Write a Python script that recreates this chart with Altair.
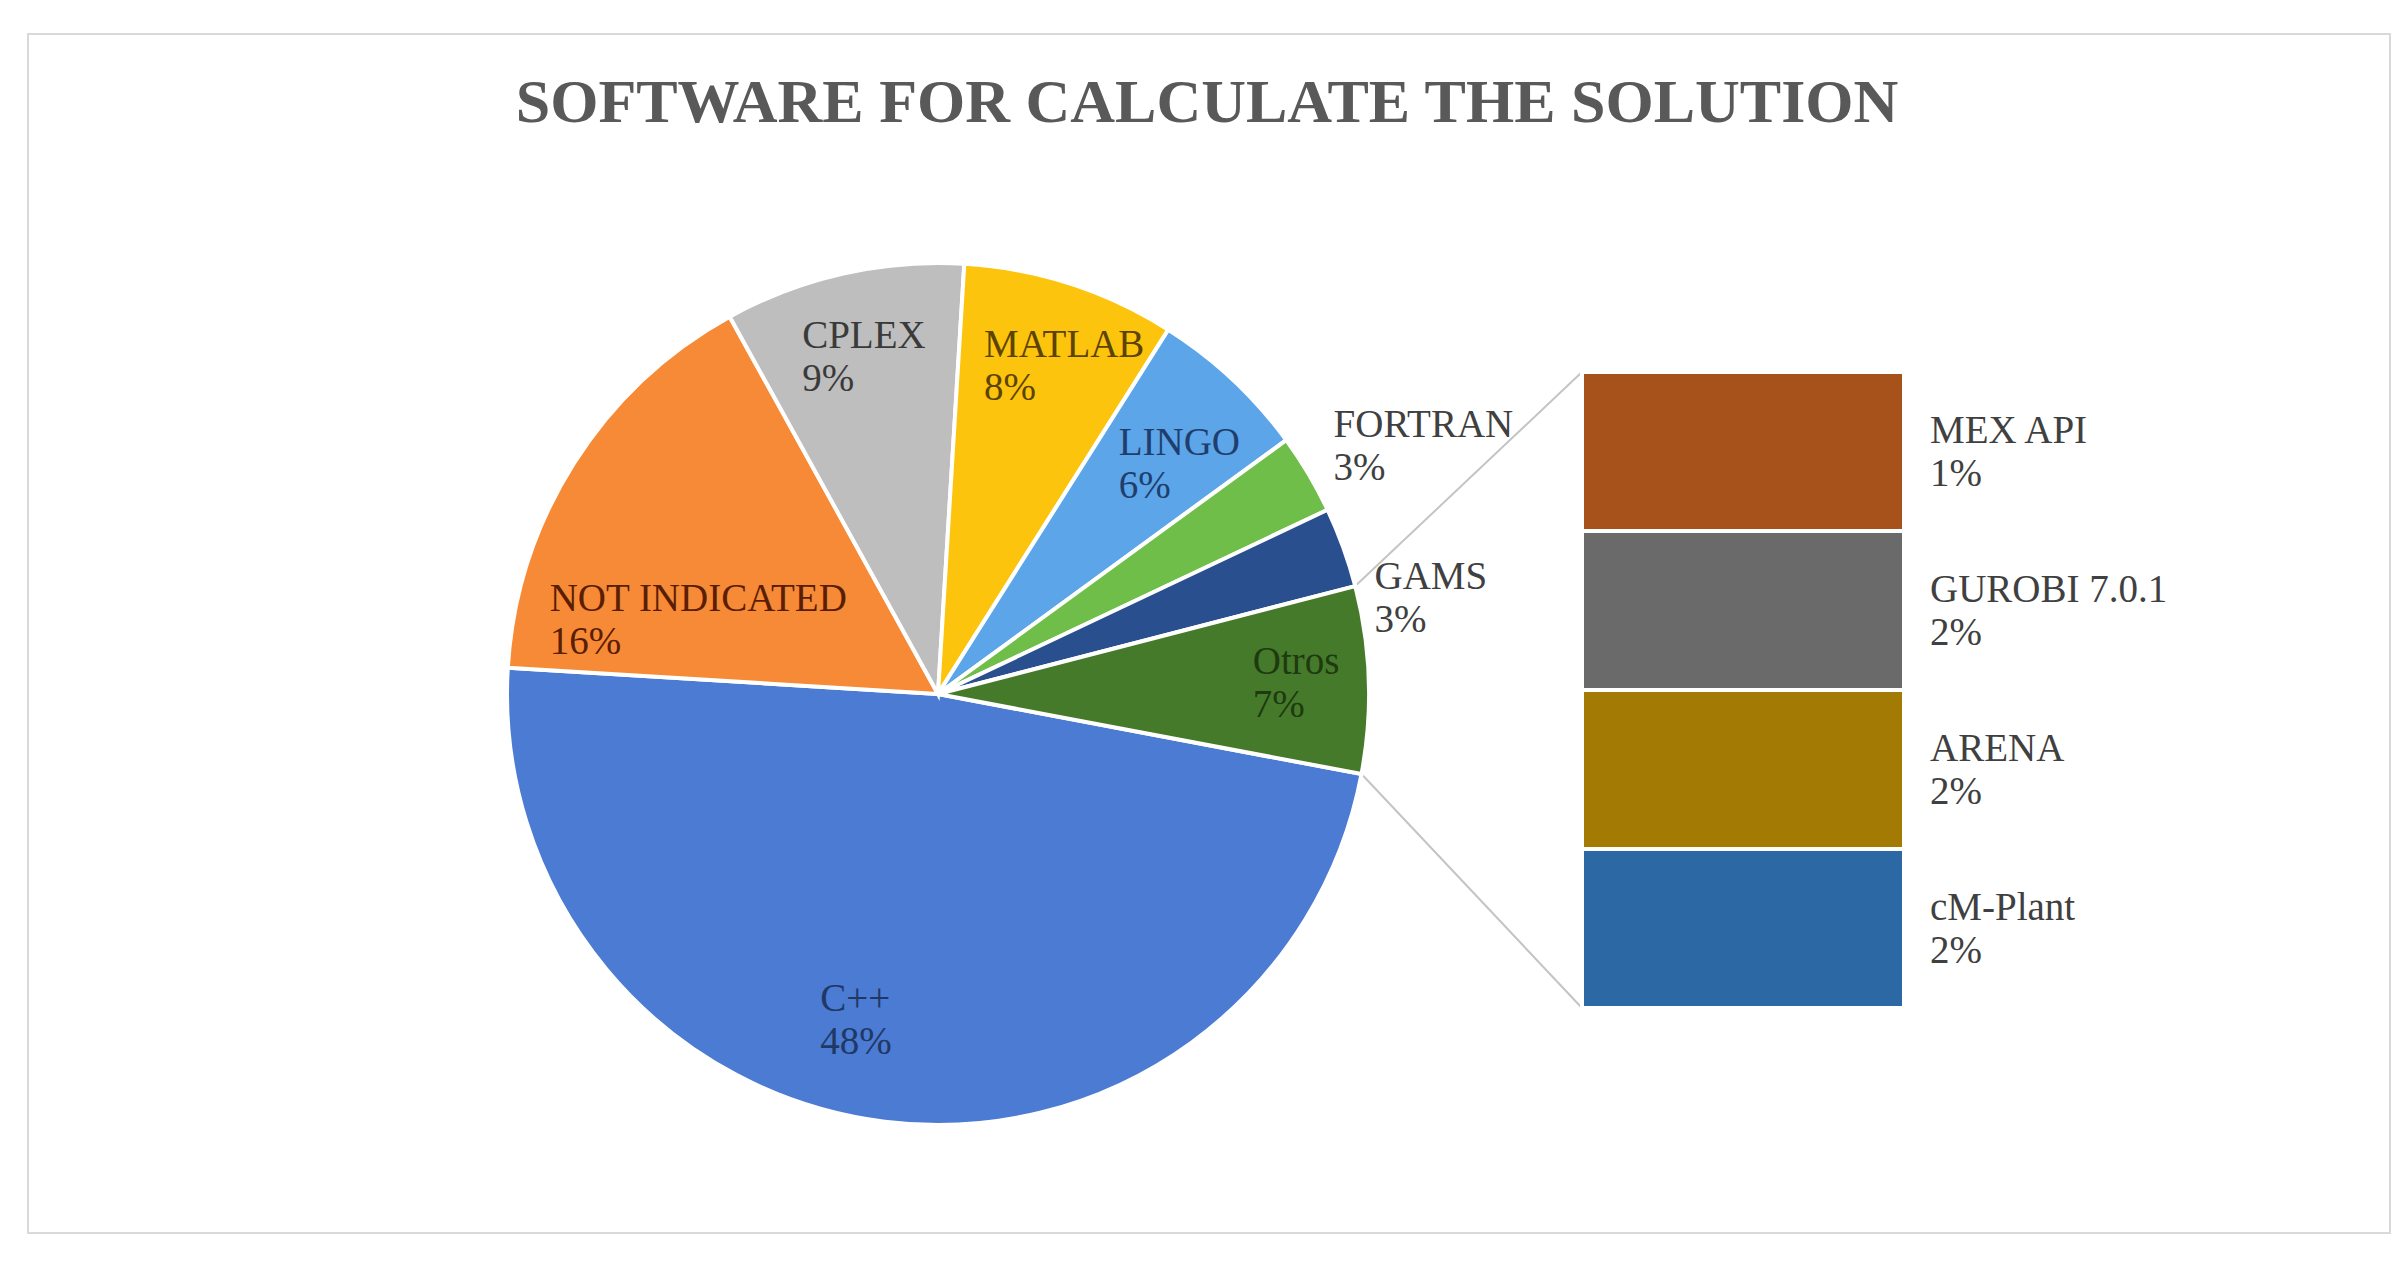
import json
import math
import altair as alt
import pandas as pd

# ---------------- data ----------------
TITLE = "SOFTWARE FOR CALCULATE THE SOLUTION"

pie_names = ["C++", "NOT INDICATED", "CPLEX", "MATLAB", "LINGO", "FORTRAN", "GAMS", "Otros"]
pie_values = [48, 16, 9, 8, 6, 3, 3, 7]
pie_colors = ["#4B7BD3", "#F78A36", "#BEBEBE", "#FDC40E", "#5CA5E8", "#6FBE4A", "#2A4F8F", "#467A2B"]
pie_label_colors = ["#1F3864", "#5A1E05", "#3A3A3A", "#5C4300", "#1F3E6E", "#404040", "#404040", "#1E3A10"]

bar_names = ["MEX API", "GUROBI 7.0.1", "ARENA", "cM-Plant"]
bar_values = [1.75, 1.75, 1.75, 1.75]
bar_labels = ["1%", "2%", "2%", "2%"]
bar_colors = ["#A8521B", "#6A6A6A", "#A37A04", "#2C68A4"]

# ---------------- layout / style ----------------
W, H = 2362, 1199
CX, CY, R = 910, 660, 431
START_DEG = 100.7
FONT = "Liberation Serif"
FS = 39
BAR_X0, BAR_X1 = 1554, 1876
BAR_TOP, BAR_BOTTOM = 338, 974

pie_df = pd.DataFrame({
    "name": pie_names,
    "value": pie_values,
    "idx": list(range(len(pie_names))),
    "pct": [f"{v}%" for v in pie_values],
})
bar_df = pd.DataFrame({
    "name": bar_names,
    "value": bar_values,
    "pct": bar_labels,
    "idx": list(range(len(bar_names))),
})

total = sum(pie_values)
start_rad = math.radians(START_DEG)
theta_scale = alt.Scale(domain=[0, total], range=[start_rad, start_rad + 2 * math.pi])
theta = alt.Theta("value:Q", stack=True, scale=theta_scale)
order = alt.Order("idx:Q")

# title
title = alt.Chart(pd.DataFrame({"t": [TITLE]})).mark_text(
    font=FONT, fontSize=62, fontWeight="bold", color="#595959",
    align="center", baseline="middle"
).encode(text="t:N", x=alt.value(1179), y=alt.value(69))

# pie slices
arcs = alt.Chart(pie_df).mark_arc(radius=R, stroke="white", strokeWidth=4).encode(
    theta=theta, order=order,
    color=alt.Color("name:N", scale=alt.Scale(domain=pie_names, range=pie_colors), legend=None),
    x=alt.value(CX), y=alt.value(CY),
)


def pie_labels(names, radius, dx, dy):
    test = "indexof(%s, datum.name) >= 0" % json.dumps(names)
    base = alt.Chart(pie_df).transform_calculate(
        nm=f"{test} ? datum.name : ''", pc=f"{test} ? datum.pct : ''"
    )
    enc = dict(
        theta=theta, order=order, x=alt.value(CX), y=alt.value(CY),
        color=alt.Color("name:N", scale=alt.Scale(domain=pie_names, range=pie_label_colors), legend=None),
    )
    n = base.mark_text(radius=radius, align="left", baseline="middle", dx=dx, dy=dy - 21,
                       font=FONT, fontSize=FS).encode(text="nm:N", **enc)
    p = base.mark_text(radius=radius, align="left", baseline="middle", dx=dx, dy=dy + 22,
                       font=FONT, fontSize=FS).encode(text="pc:N", **enc)
    return [n, p]


label_layers = []
label_layers += pie_labels(["CPLEX", "MATLAB"], 345, -60, 0)
label_layers += pie_labels(["C++"], 345, -75, -16)
label_layers += pie_labels(["LINGO"], 345, -55, 22)
label_layers += pie_labels(["Otros"], 345, -30, 0)
label_layers += pie_labels(["NOT INDICATED"], 250, -177, 60)
label_layers += pie_labels(["FORTRAN"], 460, 0, -13)
label_layers += pie_labels(["GAMS"], 460, 4, 61)

# connector lines (from the rim at the edges of the "Otros" slice to the bar corners)
before = sum(pie_values[:pie_names.index("Otros")])
a0 = start_rad + 2 * math.pi * before / total
a1 = start_rad + 2 * math.pi * (before + pie_values[pie_names.index("Otros")]) / total
p0 = (CX + R * math.sin(a0), CY - R * math.cos(a0))
p1 = (CX + R * math.sin(a1), CY - R * math.cos(a1))
one = pd.DataFrame({"k": [0]})
line_top = alt.Chart(one).mark_rule(color="#C4C4C4", strokeWidth=2).encode(
    x=alt.value(p0[0]), y=alt.value(p0[1]), x2=alt.value(BAR_X0), y2=alt.value(BAR_TOP))
line_bot = alt.Chart(one).mark_rule(color="#C4C4C4", strokeWidth=2).encode(
    x=alt.value(p1[0]), y=alt.value(p1[1]), x2=alt.value(BAR_X0), y2=alt.value(BAR_BOTTOM))

# bar of pie
y_scale = alt.Scale(domain=[0, sum(bar_values)], range=[BAR_BOTTOM, BAR_TOP], nice=False, zero=True)
bar_base = alt.Chart(bar_df).transform_stack(
    stack="value", groupby=[], as_=["y0", "y1"],
    sort=[alt.SortField("idx", order="descending")]
).transform_calculate(ymid="(datum.y0 + datum.y1) / 2")

bars = bar_base.mark_rect(stroke="white", strokeWidth=4).encode(
    x=alt.value(BAR_X0), x2=alt.value(BAR_X1),
    y=alt.Y("y0:Q", scale=y_scale, axis=None), y2="y1:Q",
    color=alt.Color("name:N", scale=alt.Scale(domain=bar_names, range=bar_colors), legend=None),
)
bar_name_text = bar_base.mark_text(align="left", baseline="middle", dy=-21, font=FONT,
                                   fontSize=FS, color="#404040").encode(
    x=alt.value(1902), y=alt.Y("ymid:Q", scale=y_scale, axis=None), text="name:N")
bar_pct_text = bar_base.mark_text(align="left", baseline="middle", dy=22, font=FONT,
                                  fontSize=FS, color="#404040").encode(
    x=alt.value(1902), y=alt.Y("ymid:Q", scale=y_scale, axis=None), text="pct:N")

chart = alt.layer(
    line_top, line_bot, arcs, *label_layers, bars, bar_name_text, bar_pct_text, title
).resolve_scale(color="independent").properties(
    width=W, height=H,
    autosize=alt.AutoSizeParams(type="none"),
    padding={"left": 20, "top": 26, "right": 10, "bottom": 10},
).configure_view(stroke="#D9D9D9", strokeWidth=2)

chart.save("out.html", embed_options={"renderer": "svg", "actions": False})
